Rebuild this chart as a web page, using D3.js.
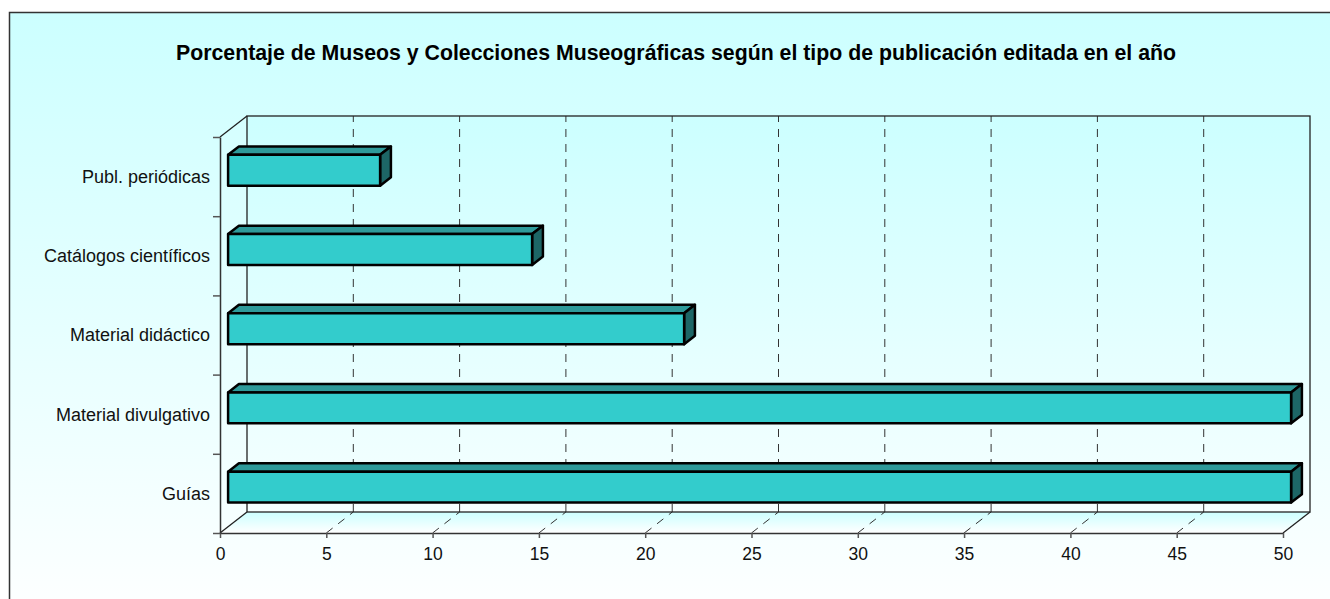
<!DOCTYPE html>
<html>
<head>
<meta charset="utf-8">
<script src="https://cdn.jsdelivr.net/npm/d3@7"></script>
<style>
  body { margin: 0; background: #fff; }
  svg { display: block; font-family: Arial, "Liberation Sans", sans-serif; }
</style>
</head>
<body>
<div id="chart-area"></div>
<script>
var title = "Porcentaje de Museos y Colecciones Museográficas según el tipo de publicación editada en el año";
var categories = ["Publ. periódicas", "Catálogos científicos", "Material didáctico", "Material divulgativo", "Guías"];
var values = [7.15, 14.3, 21.45, 50, 50];
var xTicks = [0, 5, 10, 15, 20, 25, 30, 35, 40, 45, 50];

var W = 1330, H = 599;
var depth = { dx: 27, dy: -21 };   // 3d offset front -> back wall
var barFront = 0.3, barBack = 0.7; // bars sit in the middle of the depth

var svg = d3.select("#chart-area").append("svg")
    .attr("width", W)
    .attr("height", H);

var defs = svg.append("defs");
var bg = defs.append("linearGradient").attr("id", "bg")
    .attr("x1", 0).attr("y1", 0).attr("x2", 0).attr("y2", 1);
bg.append("stop").attr("offset", "0%").attr("stop-color", "#ccffff");
bg.append("stop").attr("offset", "100%").attr("stop-color", "#ffffff");

var wallGrad = defs.append("linearGradient").attr("id", "wall")
    .attr("x1", 0).attr("y1", 0).attr("x2", 0).attr("y2", 1);
wallGrad.append("stop").attr("offset", "0%").attr("stop-color", "#ccffff");
wallGrad.append("stop").attr("offset", "100%").attr("stop-color", "#f6ffff");

var floorGrad = defs.append("linearGradient").attr("id", "floor")
    .attr("x1", 0).attr("y1", 0).attr("x2", 0).attr("y2", 1);
floorGrad.append("stop").attr("offset", "0%").attr("stop-color", "#ccffff");
floorGrad.append("stop").attr("offset", "100%").attr("stop-color", "#ffffff");

// chart area
svg.append("rect")
    .attr("x", 9.5).attr("y", 12.5)
    .attr("width", W + 20).attr("height", H + 20)
    .attr("fill", "url(#bg)")
    .attr("stroke", "#333")
    .attr("stroke-width", 1.5);

svg.append("text")
    .attr("x", 676)
    .attr("y", 60)
    .attr("text-anchor", "middle")
    .attr("font-size", "21.3px")
    .attr("font-weight", "bold")
    .attr("fill", "#000")
    .text(title);

// scales (front plane)
var x = d3.scaleLinear().domain([0, 50]).range([220, 1283]);
var yCat = d3.scaleBand().domain(categories).range([137, 533]);
var yBar = d3.scaleBand().domain(categories).range([137, 533])
    .paddingInner(0.61).paddingOuter(0.305);
var yTicks = d3.scaleLinear().domain([0, categories.length]).range([533, 137]);

var x0 = x(0), x1 = x(50), yT = yCat.range()[0], yB = yCat.range()[1];
var g = svg.append("g");

// back wall
g.append("rect")
    .attr("x", x0 + depth.dx).attr("y", yT + depth.dy)
    .attr("width", x1 - x0).attr("height", yB - yT)
    .attr("fill", "url(#wall)");

// floor
g.append("path")
    .attr("d", "M" + x0 + "," + yB + "L" + (x0 + depth.dx) + "," + (yB + depth.dy) +
        "L" + (x1 + depth.dx) + "," + (yB + depth.dy) + "L" + x1 + "," + yB + "Z")
    .attr("fill", "url(#floor)");

// gridlines on the wall and floor
var inner = xTicks.filter((d) => { return d > 0 && d < 50; });
g.selectAll(".grid-wall")
    .data(inner)
    .enter().append("line")
        .attr("class", "grid-wall")
        .attr("x1", (d) => { return x(d) + depth.dx; })
        .attr("x2", (d) => { return x(d) + depth.dx; })
        .attr("y1", yB + depth.dy)
        .attr("y2", yT + depth.dy)
        .attr("stroke", "#333")
        .attr("stroke-dasharray", "8,7");

g.selectAll(".grid-floor")
    .data(inner)
    .enter().append("line")
        .attr("class", "grid-floor")
        .attr("x1", (d) => { return x(d); })
        .attr("x2", (d) => { return x(d) + depth.dx; })
        .attr("y1", yB)
        .attr("y2", yB + depth.dy)
        .attr("stroke", "#333")
        .attr("stroke-dasharray", "8,7");

// wall / floor outlines
var edge = "#222";
g.append("rect")
    .attr("x", x0 + depth.dx).attr("y", yT + depth.dy)
    .attr("width", x1 - x0).attr("height", yB - yT)
    .attr("fill", "none")
    .attr("stroke", edge)
    .attr("stroke-width", 1.3);
[[x0, yT], [x0, yB], [x1, yB]].forEach((p) => {
    g.append("line")
        .attr("x1", p[0]).attr("y1", p[1])
        .attr("x2", p[0] + depth.dx).attr("y2", p[1] + depth.dy)
        .attr("stroke", edge)
        .attr("stroke-width", 1.3);
});

// axes
var bottomAxis = d3.axisBottom(x)
    .tickValues(xTicks)
    .tickSize(5)
    .tickSizeOuter(0)
    .tickPadding(9.5);

var xg = g.append("g")
    .attr("transform", "translate(0," + yB + ")")
    .call(bottomAxis);
xg.select(".domain").attr("stroke", "#333").attr("stroke-width", 1.5);
xg.selectAll(".tick line").attr("stroke", "#555").attr("stroke-width", 1.5);
xg.selectAll("text")
    .attr("font-size", "17.5px")
    .attr("font-family", "Arial, 'Liberation Sans', sans-serif")
    .attr("fill", "#111");

var leftAxis = d3.axisLeft(yTicks)
    .tickValues(d3.range(categories.length + 1))
    .tickSize(7)
    .tickSizeOuter(0)
    .tickFormat("");

var yg = g.append("g")
    .attr("transform", "translate(" + x0 + ",0)")
    .call(leftAxis);
yg.select(".domain").attr("stroke", "#333").attr("stroke-width", 1.5);
yg.selectAll(".tick line").attr("stroke", "#555").attr("stroke-width", 1.5);

g.selectAll(".cat-label")
    .data(categories)
    .enter().append("text")
        .attr("class", "cat-label")
        .attr("x", x0 - 10)
        .attr("y", (d) => { return yCat(d) + yCat.bandwidth() / 2; })
        .attr("dy", "0.35em")
        .attr("text-anchor", "end")
        .attr("font-size", "18px")
        .attr("fill", "#111")
        .text((d) => { return d; });

// 3d bars
var fx = depth.dx * barFront, fy = depth.dy * barFront;
var bdx = depth.dx * (barBack - barFront), bdy = depth.dy * (barBack - barFront);

var bars = g.selectAll(".bar")
    .data(categories.map((c, i) => { return { name: c, value: values[i] }; }))
    .enter().append("g")
        .attr("class", "bar")
        .attr("stroke", "#000")
        .attr("stroke-width", 2.5)
        .attr("stroke-linejoin", "round");

function pts(arr) { return arr.map((p) => { return p.join(","); }).join(" "); }

bars.append("polygon")
    .attr("fill", "#2e9a9a")
    .attr("points", (d) => {
        var l = x(0) + fx, r = x(d.value) + fx, t = yBar(d.name) + fy;
        return pts([[l, t], [l + bdx, t + bdy], [r + bdx, t + bdy], [r, t]]);
    });

bars.append("polygon")
    .attr("fill", "#1d6666")
    .attr("points", (d) => {
        var r = x(d.value) + fx, t = yBar(d.name) + fy, b = t + yBar.bandwidth();
        return pts([[r, t], [r + bdx, t + bdy], [r + bdx, b + bdy], [r, b]]);
    });

bars.append("rect")
    .attr("fill", "#33cccc")
    .attr("x", x(0) + fx)
    .attr("y", (d) => { return yBar(d.name) + fy; })
    .attr("width", (d) => { return x(d.value) - x(0); })
    .attr("height", yBar.bandwidth());
</script>
</body>
</html>
